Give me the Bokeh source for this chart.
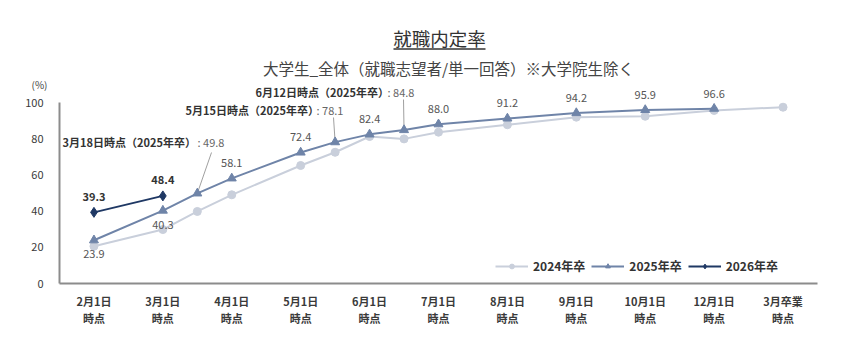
from bokeh.plotting import figure
from bokeh.models import (Range1d, FixedTicker, Label, LegendItem, Legend, LinearAxis)
from bokeh.core.properties import value
from bokeh.embed import file_html
from bokeh.resources import INLINE

# ---------------- data ----------------
x_labels = ["2月1日\n時点", "3月1日\n時点", "4月1日\n時点", "5月1日\n時点", "6月1日\n時点",
            "7月1日\n時点", "8月1日\n時点", "9月1日\n時点", "10月1日\n時点", "12月1日\n時点",
            "3月卒業\n時点"]

# x positions: integer = category index, .5 = intermediate survey date
x_2024 = [0, 1, 1.5, 2, 3, 3.5, 4, 4.5, 5, 6, 7, 8, 9, 10]
y_2024 = [20.6, 29.8, 39.8, 49.0, 65.2, 72.5, 81.2, 79.9, 83.6, 87.7, 91.9, 92.4, 95.6, 97.4]

x_2025 = [0, 1, 1.5, 2, 3, 3.5, 4, 4.5, 5, 6, 7, 8, 9]
y_2025 = [23.9, 40.3, 49.8, 58.1, 72.4, 78.1, 82.4, 84.8, 88.0, 91.2, 94.2, 95.9, 96.6]
pos_2025 = ["below", "below", "note", "above", "above", "note", "above", "note",
            "above", "above", "above", "above", "above"]

x_2026 = [0, 1]
y_2026 = [39.3, 48.4]

notes = [  # (prefix, index in 2025 series)
    ("3月18日時点（2025年卒）", 2),
    ("5月15日時点（2025年卒）", 5),
    ("6月12日時点（2025年卒）", 7),
]

series_names = ["2024年卒", "2025年卒", "2026年卒"]
y_ticks = [0, 20, 40, 60, 80, 100]
unit_label = "(%)"

# ---------------- layout helpers ----------------
W, H = 850, 351
L, R, T, B = 59, 33, 5, 68
FW = W - L - R
FH = H - T - B
XR = (-0.5, 10.5)
PXY = 1.81
YR = (0, FH / PXY)


def X(px):
    return XR[0] + (px - L) / FW * (XR[1] - XR[0])


def Y(py):
    return (H - B - py) / PXY


FONT = "Noto Sans CJK JP"
C24, C25, C26 = "#c9cfdb", "#6f84a8", "#1f3864"

p = figure(width=W, height=H, output_backend="svg", toolbar_location=None,
           x_range=Range1d(*XR), y_range=Range1d(*YR),
           min_border_left=L, min_border_right=R, min_border_top=T, min_border_bottom=B)
p.outline_line_color = None
p.xgrid.visible = False
p.ygrid.visible = False

# axes
for ax in (p.xaxis, p.yaxis):
    ax.axis_line_color = "#8c8c8c"
    ax.axis_line_width = 2
    ax.major_tick_line_color = None
    ax.minor_tick_line_color = None
    ax.major_label_text_font = FONT
    ax.major_label_text_color = "#3a3a3a"

p.yaxis.bounds = (0, 100)
p.yaxis.ticker = FixedTicker(ticks=y_ticks)
p.yaxis.major_label_text_font_size = "11px"
p.yaxis.major_label_standoff = 10

# second (label-only) left axis carrying the unit label above the 100 tick
unit_axis = LinearAxis(ticker=FixedTicker(ticks=[110]),
                       major_label_overrides={110: unit_label},
                       axis_line_color=None, major_tick_line_color=None,
                       minor_tick_line_color=None, major_label_standoff=-31,
                       major_label_text_font=FONT, major_label_text_font_size="10px",
                       major_label_text_color="#444444")
p.add_layout(unit_axis, "left")

p.xaxis.ticker = FixedTicker(ticks=list(range(len(x_labels))))
p.xaxis.major_label_overrides = {i: s for i, s in enumerate(x_labels)}
p.xaxis.major_label_text_font_size = "11px"
p.xaxis.major_label_text_font_style = "bold"
p.xaxis.major_label_text_line_height = 1.1
p.xaxis.major_label_standoff = 3

# leader lines for notes
lead = {2: (211, 152), 5: (333, 117), 7: (403, 99)}
for prefix, idx in notes:
    sx, sy = lead[idx]
    p.segment(x0=[X(sx)], y0=[Y(sy)], x1=[x_2025[idx]], y1=[y_2025[idx]],
              line_color="#a0a0a0", line_width=1)

# series
l24 = p.line(x_2024, y_2024, line_color=C24, line_width=2)
m24 = p.scatter(x_2024, y_2024, marker="circle", size=8, fill_color=C24, line_color=C24)
l25 = p.line(x_2025, y_2025, line_color=C25, line_width=2)
m25 = p.scatter(x_2025, y_2025, marker="triangle", size=9, fill_color=C25, line_color=C25)
l26 = p.line(x_2026, y_2026, line_color=C26, line_width=2)
m26 = p.scatter(x_2026, y_2026, marker="diamond", size=10, fill_color=C26, line_color=C26)

# data labels
ax_, ay_, at_ = [], [], []
bx_, by_, bt_ = [], [], []
for xv, yv, pos in zip(x_2025, y_2025, pos_2025):
    if pos == "above":
        ax_.append(xv); ay_.append(yv); at_.append(f"{yv:.1f}")
    elif pos == "below":
        bx_.append(xv); by_.append(yv); bt_.append(f"{yv:.1f}")
p.text(ax_, ay_, text=at_, y_offset=-15, text_align="center", text_baseline="middle",
       text_font=value(FONT), text_font_size="11px", text_color="#555555")
p.text(bx_, by_, text=bt_, y_offset=14, text_align="center", text_baseline="middle",
       text_font=value(FONT), text_font_size="11px", text_color="#555555")
p.text(x_2026, y_2026, text=[f"{v:.1f}" for v in y_2026], y_offset=-16,
       text_align="center", text_baseline="middle", text_font=value(FONT),
       text_font_size="11px", text_font_style="bold", text_color="#333333")

# note labels
note_pos = {2: (62, 197, 141), 5: (185, 316, 109), 7: (255, 387, 91)}
for prefix, idx in notes:
    lx, cx, ly = note_pos[idx]
    p.add_layout(Label(x=X(lx), y=Y(ly), text=prefix, text_align="left",
                       text_baseline="middle", text_font=FONT, text_font_size="11px",
                       text_font_style="bold", text_color="#333333"))
    p.add_layout(Label(x=X(cx), y=Y(ly), text=f": {y_2025[idx]:.1f}", text_align="left",
                       text_baseline="middle", text_font=FONT, text_font_size="11px",
                       text_color="#666666"))

# title & subtitle
p.add_layout(Label(x=X(439), y=Y(37), text="就職内定率", text_align="center",
                   text_baseline="middle", text_font=FONT, text_font_size="18.5px",
                   text_color="#333333"))
p.line([X(393), X(485)], [Y(48.5), Y(48.5)], line_color="#333333", line_width=1.5)
p.add_layout(Label(x=X(448), y=Y(67), text="大学生_全体（就職志望者/単一回答）※大学院生除く",
                   text_align="center", text_baseline="middle", text_font=FONT,
                   text_font_size="15.5px", text_color="#444444"))

# legend
legend = Legend(items=[
    LegendItem(label=series_names[0], renderers=[l24, m24]),
    LegendItem(label=series_names[1], renderers=[l25, m25]),
    LegendItem(label=series_names[2], renderers=[l26, m26]),
], orientation="horizontal", location=(436, 9), background_fill_alpha=0,
    border_line_color=None, margin=0, padding=0, spacing=6, glyph_width=33,
    glyph_height=12, label_standoff=5, label_height=12,
    label_text_font=FONT, label_text_font_size="12px", label_text_font_style="bold",
    label_text_color="#333333")
p.add_layout(legend)

open("out.html", "w").write(file_html(p, INLINE))
